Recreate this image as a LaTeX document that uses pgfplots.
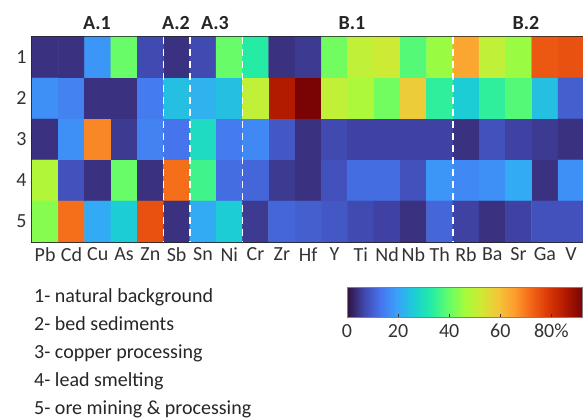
\documentclass[border=0pt]{standalone}
\usepackage{fontspec}
\setmainfont{Carlito}
\usepackage{pgfplots}
\pgfplotsset{compat=1.18}
\pgfplotsset{colormap={turbo}{rgb255=(48,18,59) rgb255=(65,71,173) rgb255=(70,117,237) rgb255=(57,162,252) rgb255=(27,207,212) rgb255=(36,236,166) rgb255=(97,252,108) rgb255=(164,252,59) rgb255=(209,232,52) rgb255=(243,198,58) rgb255=(254,155,45) rgb255=(243,99,21) rgb255=(217,56,6) rgb255=(177,25,1) rgb255=(122,4,3)}}
\newcommand{\fs}{\fontsize{20}{24}\selectfont}
\begin{document}
\begin{tikzpicture}
\begin{axis}[
  at={(32pt,177pt)}, anchor=south west,
  scale only axis, width=552.3pt, height=205pt,
  xmin=-0.5, xmax=20.5, ymin=0.5, ymax=5.5, y dir=reverse,
  enlargelimits=false, clip=false,
  xtick={0,...,20},
  xticklabels={Pb,Cd,Cu,As,Zn,Sb,Sn,Ni,Cr,Zr,Hf,Y,Ti,Nd,Nb,Th,Rb,Ba,Sr,Ga,V},
  ytick={1,2,3,4,5},
  /pgf/number format/assume math mode=true,
  tick style={draw=none},
  tick label style={font=\fs, text=black!80},
  xticklabel style={yshift=-2pt},
  yticklabel style={xshift=-2pt},
  axis line style={line width=1.5pt, black!85},
  colormap name=turbo, point meta min=0, point meta max=92,
  colorbar horizontal,
  colorbar/width=30pt,
  colorbar style={
    at={(parent axis.south west)}, anchor=north west,
    xshift=315pt, yshift=-37pt,
    width=235pt,
    xtick={0,20,40,60,80}, xticklabels={0,20,40,60,80\%},
    xtick pos=left, tick align=inside, major tick length=4pt,
    tick style={draw=black!80, line width=0.8pt},
    axis line style={draw=black!50, line width=0.8pt},
    /pgf/number format/assume math mode=true,
    tick label style={font=\fs, text=black!80},
    xticklabel style={yshift=-3pt},
  },
]
\addplot[matrix plot*, mesh/cols=21, point meta=explicit]
  table[meta=c, row sep=\\] {
x y c\\
0 1 4\\ 1 1 4\\ 2 1 18\\ 3 1 40\\ 4 1 7\\ 5 1 4\\ 6 1 7\\ 7 1 40\\ 8 1 33\\ 9 1 4\\ 10 1 5\\ 11 1 41\\ 12 1 50\\ 13 1 52\\ 14 1 38\\ 15 1 45\\ 16 1 64\\ 17 1 50\\ 18 1 45\\ 19 1 74\\ 20 1 75\\
0 2 17\\ 1 2 15\\ 2 2 4\\ 3 2 4\\ 4 2 14\\ 5 2 24\\ 6 2 22\\ 7 2 24\\ 8 2 50\\ 9 2 85\\ 10 2 92\\ 11 2 50\\ 12 2 47\\ 13 2 41\\ 14 2 58\\ 15 2 34\\ 16 2 26\\ 17 2 34\\ 18 2 38\\ 19 2 24\\ 20 2 10\\
0 3 4\\ 1 3 17\\ 2 3 68\\ 3 3 5\\ 4 3 15\\ 5 3 13\\ 6 3 29\\ 7 3 14\\ 8 3 16\\ 9 3 9\\ 10 3 4\\ 11 3 7\\ 12 3 6\\ 13 3 6\\ 14 3 6\\ 15 3 6\\ 16 3 4\\ 17 3 8\\ 18 3 6\\ 19 3 5\\ 20 3 4\\
0 4 48\\ 1 4 8\\ 2 4 4\\ 3 4 40\\ 4 4 4\\ 5 4 71\\ 6 4 36\\ 7 4 12\\ 8 4 11\\ 9 4 5\\ 10 4 4\\ 11 4 8\\ 12 4 12\\ 13 4 12\\ 14 4 8\\ 15 4 18\\ 16 4 16\\ 17 4 17\\ 18 4 21\\ 19 4 4\\ 20 4 17\\
0 5 43\\ 1 5 71\\ 2 5 21\\ 3 5 26\\ 4 5 75\\ 5 5 4\\ 6 5 21\\ 7 5 26\\ 8 5 5\\ 9 5 11\\ 10 5 10\\ 11 5 9\\ 12 5 7\\ 13 5 6\\ 14 5 4\\ 15 5 11\\ 16 5 6\\ 17 5 4\\ 18 5 6\\ 19 5 8\\ 20 5 8\\
};
\draw[white, line width=1.8pt, dash pattern=on 7pt off 5pt] (axis cs:4.5,0.5) -- (axis cs:4.5,5.5);
\draw[white, line width=1.8pt, dash pattern=on 7pt off 5pt] (axis cs:5.5,0.5) -- (axis cs:5.5,5.5);
\draw[white, line width=1.8pt, dash pattern=on 7pt off 5pt] (axis cs:7.5,0.5) -- (axis cs:7.5,5.5);
\draw[white, line width=1.8pt, dash pattern=on 7pt off 5pt] (axis cs:15.5,0.5) -- (axis cs:15.5,5.5);
\end{axis}
\begin{scope}[every node/.style={font=\bfseries\fs, text=black!85}]
\node at (97pt,396pt) {A.1};
\node at (176pt,396pt) {A.2};
\node at (215pt,396pt) {A.3};
\node at (352pt,396pt) {B.1};
\node at (526pt,396pt) {B.2};
\end{scope}
\begin{scope}[every node/.style={font=\fs, text=black!85, anchor=base west, inner sep=0pt}]
\node at (34pt,116pt) {1- natural background};
\node at (34pt,88pt) {2- bed sediments};
\node at (34pt,60pt) {3- copper processing};
\node at (34pt,32pt) {4- lead smelting};
\node at (34pt,4pt) {5- ore mining \& processing};
\end{scope}
\pgfresetboundingbox
\useasboundingbox (0,0) rectangle (583pt,419pt);
\end{tikzpicture}
\end{document}
